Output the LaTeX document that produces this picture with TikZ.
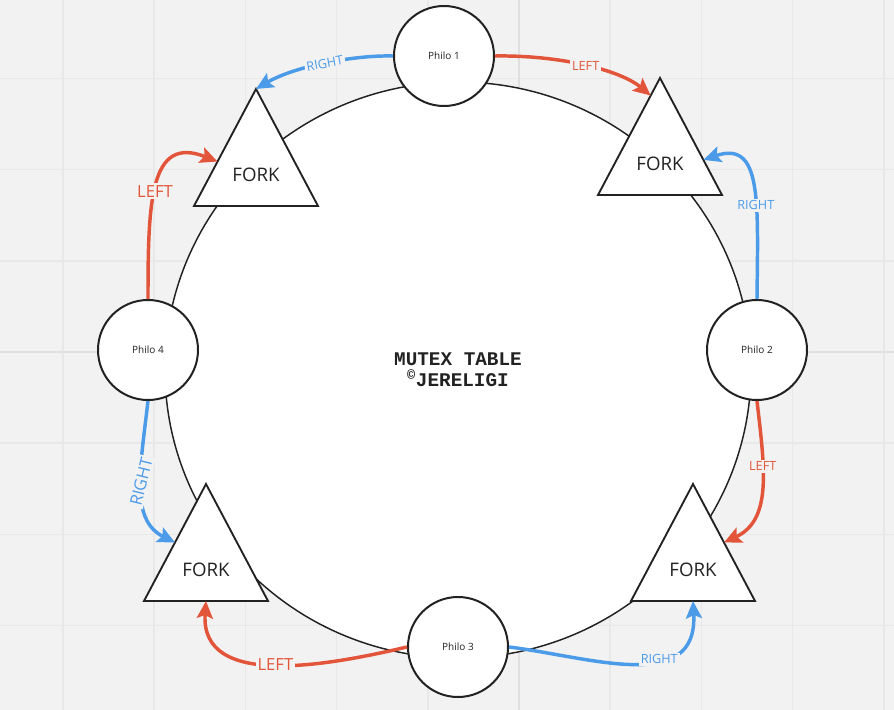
\documentclass[tikz,border=0pt]{standalone}
\usepackage{fontspec}
\setmainfont{Open Sans}
\newfontfamily\tablefont{Liberation Mono}
\usetikzlibrary{arrows.meta}
\usetikzlibrary{calc}
\usetikzlibrary{shapes.geometric}
\definecolor{bg}{HTML}{F2F2F2}
\definecolor{gridline}{HTML}{E8E8E8}
\definecolor{gridmajor}{HTML}{E0E0E0}
\definecolor{ink}{HTML}{222222}
\definecolor{rightblue}{HTML}{4C9BE9}
\definecolor{leftred}{HTML}{E2553A}
\tikzset{
	philo/.style={circle, draw=ink, line width=1.5pt, fill=white, minimum size=75pt, inner sep=0pt, text=ink, font=\fontsize{7.5}{9}\selectfont},
	forkbox/.style={draw=ink, line width=1.4pt, fill=white},
	forktext/.style={text=ink, font=\fontsize{14}{16}\selectfont},
	hand/.style={line width=2.6pt, -{Stealth[length=13pt, width=12pt, inset=2.5pt]}},
	rightarrow/.style={hand, draw=rightblue},
	leftarrow/.style={hand, draw=leftred},
	lbl/.style={fill=bg, inner sep=1.5pt, font=\fontsize{9.5}{11}\selectfont},
	rlbl/.style={lbl, text=rightblue},
	llbl/.style={lbl, text=leftred},
	biglbl/.style={font=\fontsize{12.5}{14}\selectfont},
}

\begin{document}
\begin{tikzpicture}[x=0.75pt, y=-0.75pt]
	\useasboundingbox (0,0) rectangle (894,710);
	\fill[bg] (0,0) rectangle (894,710);
	\foreach \i in {0,...,9} {
		\draw[gridline, line width=1.2pt] (63+91.2*\i,0) -- (63+91.2*\i,710);
	}
	\foreach \j in {-3,...,3} {
		\draw[gridline, line width=1.2pt] (0,352+91.2*\j) -- (894,352+91.2*\j);
	}
	\draw[gridmajor, line width=1.2pt] (519,0) -- (519,710) (0,352) -- (894,352);

	\node[ellipse, draw=ink, line width=1.1pt, fill=white, minimum width=439.5pt, minimum height=432pt, align=center, text=ink, font=\tablefont\bfseries\fontsize{14.5}{15.75}\selectfont] (table) at (458,370) {MUTEX TABLE\\\textsuperscript{©}JERELIGI};

	\foreach \n/\x/\y in {a/256/89, b/660/78, c/693/484, d/206/484} {
		\draw[forkbox] (\x,\y) coordinate (\n-top) -- ++(62,117) coordinate (\n-right) -- ++(-124,0) coordinate (\n-left) -- cycle;
		\node[forktext] (fork-\n) at (\x,\y+86) {FORK};
	}

	\foreach \i/\x/\y in {1/444/56, 2/757/350, 3/458/647, 4/148/350} {
		\node[philo] (p\i) at (\x,\y) {Philo \i};
	}

	\draw[rightarrow] (p1.west) .. controls (355,55) and (295,66) .. (a-top) node[rlbl, pos=0.5, rotate=10] {RIGHT};
	\draw[leftarrow] (p1.east) .. controls (560,55) and (620,70) .. ($(b-top)!0.15!(b-left)$) node[llbl, pos=0.5] {LEFT};
	\draw[rightarrow] (p2.north) .. controls (758,200) and (762,140) .. ($(b-top)!0.7!(b-right)$) node[rlbl, pos=0.38] {RIGHT};
	\draw[leftarrow] (p2.south) .. controls (765,470) and (772,520) .. ($(c-top)!0.5!(c-right)$) node[llbl, pos=0.35] {LEFT};
	\draw[rightarrow] (p3.east) .. controls (590,657) and (698,695) .. ($(c-left)!0.5!(c-right)$) node[rlbl, pos=0.63] {RIGHT};
	\draw[leftarrow] (p3.west) .. controls (330,665) and (200,690) .. ($(d-left)!0.5!(d-right)$) node[llbl, biglbl, pos=0.5] {LEFT};
	\draw[rightarrow] (p4.south) .. controls (140,470) and (130,520) .. ($(d-top)!0.5!(d-left)$) node[rlbl, biglbl, pos=0.45, rotate=76] {RIGHT};
	\draw[leftarrow] (p4.north) .. controls (148,200) and (150,135) .. ($(a-top)!0.62!(a-left)$) node[llbl, biglbl, pos=0.45] {LEFT};
\end{tikzpicture}
\end{document}
